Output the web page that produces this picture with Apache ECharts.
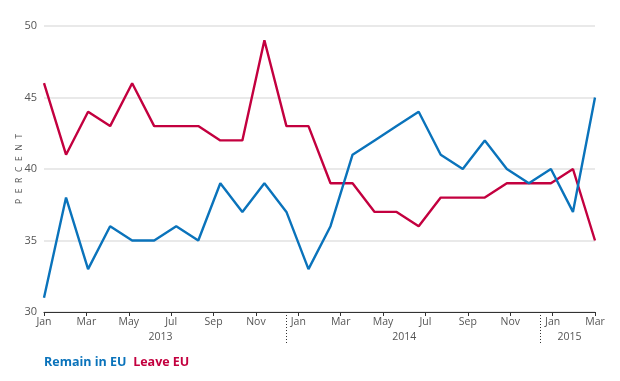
<!DOCTYPE html>
<html>
<head>
<meta charset="utf-8">
<script src="https://cdn.jsdelivr.net/npm/echarts@6/dist/echarts.min.js"></script>
<style>html,body{margin:0;padding:0;background:#fff}#c{width:620px;height:381px}</style>
</head>
<body>
<div id="c"></div>
<script>
// Axis months (Jan 2013 - Mar 2015)
const months = ['Jan','Feb','Mar','Apr','May','Jun','Jul','Aug','Sep','Oct','Nov','Dec',
                'Jan','Feb','Mar','Apr','May','Jun','Jul','Aug','Sep','Oct','Nov','Dec',
                'Jan','Feb','Mar'];
const years = ['2013','2014','2015'];
// Poll observations (26 surveys, evenly spaced)
const polls = ['p1','p2','p3','p4','p5','p6','p7','p8','p9','p10','p11','p12','p13',
               'p14','p15','p16','p17','p18','p19','p20','p21','p22','p23','p24','p25','p26'];
const remain = [31,38,33,36,35,35,36,35,39,37,39,37,33,36,41,42,43,44,41,40,42,40,39,40,37,45];
const leave  = [46,41,44,43,46,43,43,43,42,42,49,43,43,39,39,37,37,36,38,38,38,39,39,39,40,35];
const yTicks = {min:30, max:50, interval:5};
const seriesNames = ['Remain in EU','Leave EU'];
const yName = 'PERCENT';

// layout constants (month units along the axis)
const yearCenters = [5.5, 17.0, 24.8];
const yearBreaks = [11.4, 23.4];

const FONT = 'Open Sans';
const BLUE = '#0a73bb', RED = '#c3003f';

const chart = echarts.init(document.getElementById('c'), null, {renderer:'canvas'});
chart.setOption({
  animation:false,
  backgroundColor:'#fff',
  textStyle:{fontFamily:FONT},
  grid:{left:44, right:25, top:26, bottom:69, containLabel:false, outerBoundsMode:'none'},
  xAxis:[
    {type:'category', data:polls, boundaryGap:false, show:false},
    {type:'category', data:months, boundaryGap:false, position:'bottom',
     axisLine:{lineStyle:{color:'#333', width:1.2}},
     axisTick:{interval:1, length:4, lineStyle:{color:'#333'}},
     axisLabel:{interval:1, color:'#555', fontSize:10.5, margin:5, fontFamily:FONT},
     splitLine:{show:false}},
    {type:'value', min:0, max:26, show:false}
  ],
  yAxis:{
    type:'value', min:yTicks.min, max:yTicks.max, interval:yTicks.interval,
    axisLine:{show:false}, axisTick:{show:false},
    axisLabel:{color:'#555', fontSize:11, margin:7, fontFamily:FONT},
    splitLine:{lineStyle:{color:'#e2e2e2', width:1.5}}
  },
  series:[
    {name:seriesNames[0], type:'line', xAxisIndex:0, data:remain, symbol:'none',
     lineStyle:{color:BLUE, width:2.4}, itemStyle:{color:BLUE}, z:3},
    {name:seriesNames[1], type:'line', xAxisIndex:0, data:leave, symbol:'none',
     lineStyle:{color:RED, width:2.4}, itemStyle:{color:RED}, z:2}
  ]
});

function px(v){ return chart.convertToPixel({xAxisIndex:2}, v); }
const y0 = chart.convertToPixel({yAxisIndex:0}, yTicks.min);
const yTop = chart.convertToPixel({yAxisIndex:0}, yTicks.max);
const g = [];
// vertical axis title
g.push({type:'text', x:20, y:(y0+yTop)/2, rotation:Math.PI/2, style:{
  text:yName.split('').join('\u2002\u2009'), fill:'#555', font:'8.5px "'+FONT+'"',
  align:'center', verticalAlign:'middle'}});
years.forEach((yr,i)=>{
  g.push({type:'text', x:px(yearCenters[i]), y:y0+25, style:{text:yr, fill:'#555', font:'10.5px "'+FONT+'"', align:'center', verticalAlign:'middle'}});
});
yearBreaks.forEach(b=>{
  const x = Math.round(px(b))+0.5;
  g.push({type:'line', shape:{x1:x, y1:y0, x2:x, y2:y0+33}, style:{stroke:'#333', lineWidth:1, lineDash:[1,2]}});
});
// legend as coloured bold labels
g.push({type:'text', x:px(0), y:y0+50, style:{
  text:'{a|'+seriesNames[0]+'}  {b|'+seriesNames[1]+'}',
  verticalAlign:'middle',
  rich:{
    a:{fill:BLUE, font:'bold 12.5px "'+FONT+'"'},
    b:{fill:RED, font:'bold 12.5px "'+FONT+'"'}
  }
}});
chart.setOption({graphic:g});
</script>
</body>
</html>
